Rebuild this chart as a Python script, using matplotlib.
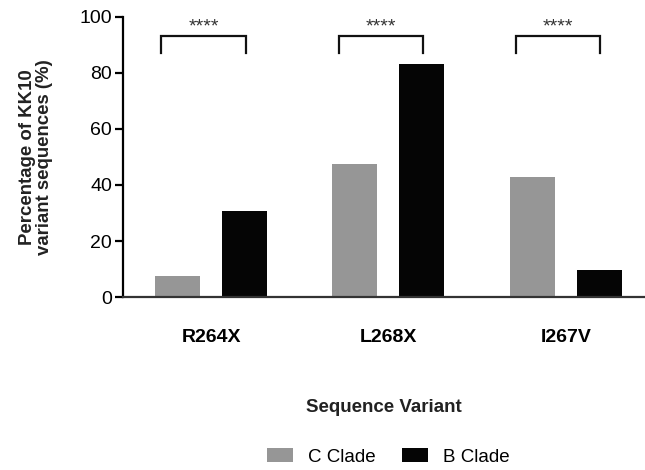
import matplotlib.pyplot as plt
import numpy as np

# --- data ---
variants = ["R264X", "L268X", "I267V"]
c_clade = [7.5, 47.5, 42.9]
b_clade = [30.7, 83.2, 9.6]
sig_labels = ["****", "****", "****"]

plt.rcParams["font.family"] = ["Liberation Sans", "DejaVu Sans"]

fig = plt.figure(figsize=(6.45, 4.7), dpi=100)
ax = fig.add_axes([0.1907, 0.368, 0.809, 0.596])

x = np.arange(len(variants))
width = 0.2535
offset = 0.189

ax.bar(x - offset, c_clade, width, color="#969696", label="C Clade")
ax.bar(x + offset, b_clade, width, color="#050505", label="B Clade")

# significance brackets
for xi, lab in zip(x, sig_labels):
    x0, x1 = xi - 0.28, xi + 0.195
    ax.plot([x0, x0, x1, x1], [87.2, 93.3, 93.3, 87.2], color="#111111",
            lw=1.6, solid_joinstyle="miter", clip_on=False)
    ax.text((x0 + x1) / 2, 96.3, lab, ha="center", va="center",
            fontsize=14, color="#333333")

ax.set_xlim(-0.496, 2.445)
ax.set_ylim(0, 100)
ax.set_yticks(range(0, 101, 20))
ax.set_xticks(x)
ax.set_xticklabels(variants, fontweight="bold", fontsize=14)

for side in ("top", "right"):
    ax.spines[side].set_visible(False)
ax.spines["left"].set_linewidth(1.6)
ax.spines["bottom"].set_linewidth(1.6)
ax.spines["bottom"].set_color("#333333")

ax.tick_params(axis="y", labelsize=14, width=1.6, length=6, pad=2)
ax.tick_params(axis="x", length=0, pad=23)

ax.set_ylabel("Percentage of KK10\nvariant sequences (%)", fontweight="bold",
              fontsize=13.4, labelpad=19, color="#222222", linespacing=1.0)
ax.set_xlabel("Sequence Variant", fontweight="bold", fontsize=13.5,
              labelpad=38, color="#222222")

fig.legend(loc="center", bbox_to_anchor=(0.602, 0.028), ncol=2, frameon=False,
           fontsize=13.5, handlelength=1.4, handleheight=0.8,
           columnspacing=1.4, handletextpad=0.8)

fig.savefig("out.png", dpi=100)
